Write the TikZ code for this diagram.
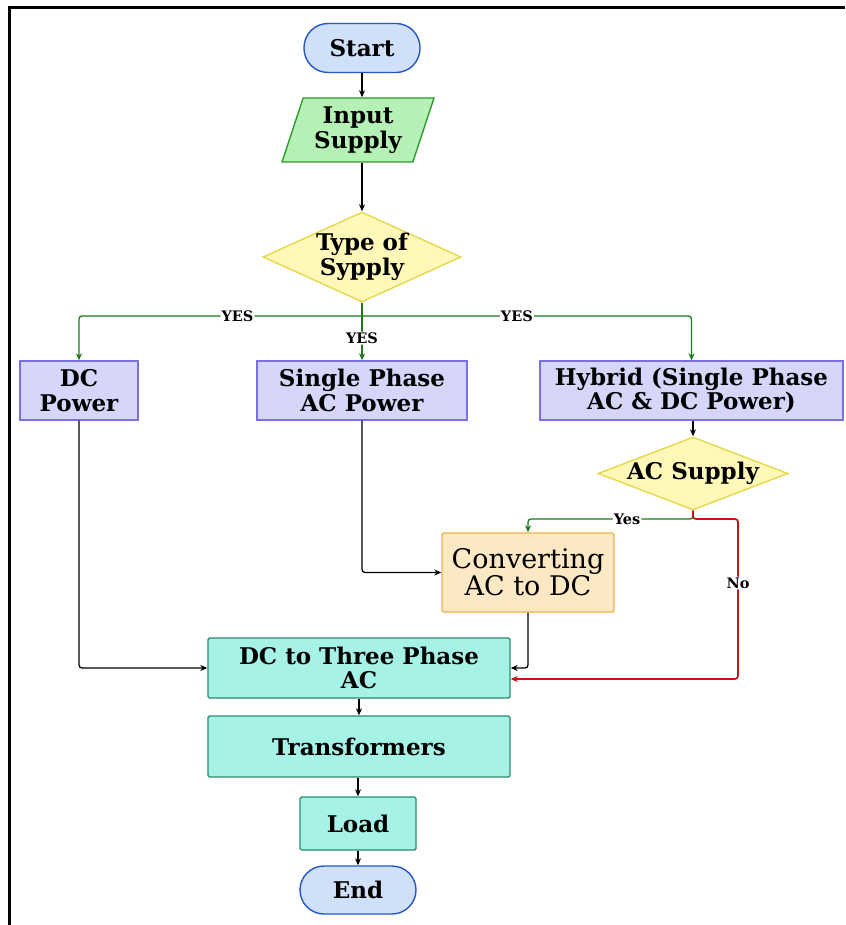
\documentclass[tikz,border=0pt]{standalone}
\usepackage{fontspec}
\setmainfont{DejaVu Serif}
\usetikzlibrary{shapes.geometric,arrows.meta}

\definecolor{termfill}{HTML}{CFE0F8}
\definecolor{termdraw}{HTML}{2458C0}
\definecolor{iofill}{HTML}{B5F0B5}
\definecolor{iodraw}{HTML}{2E9B2E}
\definecolor{decfill}{HTML}{FFF8B8}
\definecolor{decdraw}{HTML}{E6D84A}
\definecolor{procfill}{HTML}{D6D6FB}
\definecolor{procdraw}{HTML}{7A70E4}
\definecolor{convfill}{HTML}{FDE8C4}
\definecolor{convdraw}{HTML}{F0B050}
\definecolor{tealfill}{HTML}{A6F2E6}
\definecolor{tealdraw}{HTML}{2B8A6E}
\definecolor{yesgreen}{HTML}{1A7A1A}
\definecolor{nored}{HTML}{D01010}

\tikzset{
  base/.style={align=center, line width=1.4pt, inner sep=0pt,
    font=\fontsize{23}{24.5}\selectfont\bfseries},
  term/.style={base, draw=termdraw, fill=termfill, rounded corners=24pt,
    minimum width=116pt, minimum height=49pt},
  iobox/.style={base, draw=iodraw, fill=iofill, trapezium, trapezium stretches=true,
    trapezium left angle=70, trapezium right angle=110,
    minimum width=152pt, minimum height=64pt},
  decision/.style={base, draw=decdraw, fill=decfill, diamond, aspect=2.3, inner sep=-3pt},
  proc/.style={base, draw=procdraw, fill=procfill, minimum height=59pt},
  conv/.style={base, draw=convdraw, fill=convfill, rounded corners=1.5pt,
    font=\fontsize{27}{26}\selectfont, minimum width=172pt, minimum height=79pt},
  teal/.style={base, draw=tealdraw, fill=tealfill, rounded corners=1.5pt},
  arr/.style={line width=1.3pt, -{Stealth[length=7pt,width=6pt]}, rounded corners=3pt},
  garr/.style={arr, draw=yesgreen},
  rarr/.style={arr, draw=nored, line width=1.7pt},
  lab/.style={fill=white, inner sep=1pt, text=black,
    font=\fontsize{14.5}{16}\selectfont\bfseries}
}

\begin{document}
\begin{tikzpicture}[x=1pt,y=-1pt]
\useasboundingbox (0,0) rectangle (845,925);
% frame
\draw[line width=3pt] (845,8) -- (9,8) -- (9,925);

% nodes
\node[term] (start) at (362,48) {Start};
\node[iobox] (input) at (358,130) {Input\\Supply};
\node[decision, minimum width=198pt, minimum height=90pt] (type) at (362,257) {Type of\\Sypply};
\node[proc, minimum width=118pt] (dc) at (79,390.5) {DC\\Power};
\node[proc, minimum width=210pt] (single) at (362,390.5) {Single Phase\\AC Power};
\node[proc, minimum width=303pt] (hybrid) at (691.5,390.5) {Hybrid (Single Phase\\AC \& DC Power)};
\node[decision, minimum width=190pt, minimum height=73pt, aspect=2.6] (acs) at (693,473.5) {AC Supply};
\node[conv] (conv) at (528,572.5) {Converting\\AC to DC};
\node[teal, minimum width=302pt, minimum height=60pt] (dc3) at (359,668) {DC to Three Phase\\AC};
\node[teal, minimum width=302pt, minimum height=61pt] (trans) at (359,746.5) {Transformers};
\node[teal, minimum width=116pt, minimum height=53pt] (load) at (358,823.5) {Load};
\node[term, minimum width=116pt, minimum height=48pt] (end) at (358,890) {End};

% branch points
\coordinate (bus) at (362,316);
\coordinate (acb) at (693,519);
\coordinate (nocorner) at (738,519);
\coordinate (noend) at (738,679);

% main line
\draw[arr] (start.south) -- (start.south |- input.north);
\draw[arr] (type.north |- input.south) -- (type.north);

% supply types
\draw[line width=1.3pt, yesgreen] (type.south) -- (bus);
\draw[garr] (bus) -- node[lab, pos=0.44] {YES} (bus -| dc.north) -- (dc.north);
\draw[garr] (bus) -- node[lab] {YES} (single.north);
\draw[garr] (bus) -- node[lab, pos=0.47] {YES} (bus -| hybrid.north) -- (hybrid.north);

% hybrid branch
\draw[arr] (hybrid.south -| acs.north) -- (acs.north);
\draw[garr] (acs.south) -- (acb) -- node[lab, pos=0.4] {Yes} (acb -| conv.north) -- (conv.north);
\draw[rarr] (acs.south) -- (acb) -- (nocorner) -- node[lab, pos=0.4] {No} (noend) -- (noend -| dc3.east);

% into the inverter
\draw[arr] (single.south) |- (conv.west);
\draw[arr] (dc.south) |- (dc3.west);
\draw[arr] (conv.south) |- (dc3.east);

% output chain
\draw[arr] (dc3.south) -- (trans.north);
\draw[arr] (load.north |- trans.south) -- (load.north);
\draw[arr] (load.south) -- (end.north);
\end{tikzpicture}
\end{document}
